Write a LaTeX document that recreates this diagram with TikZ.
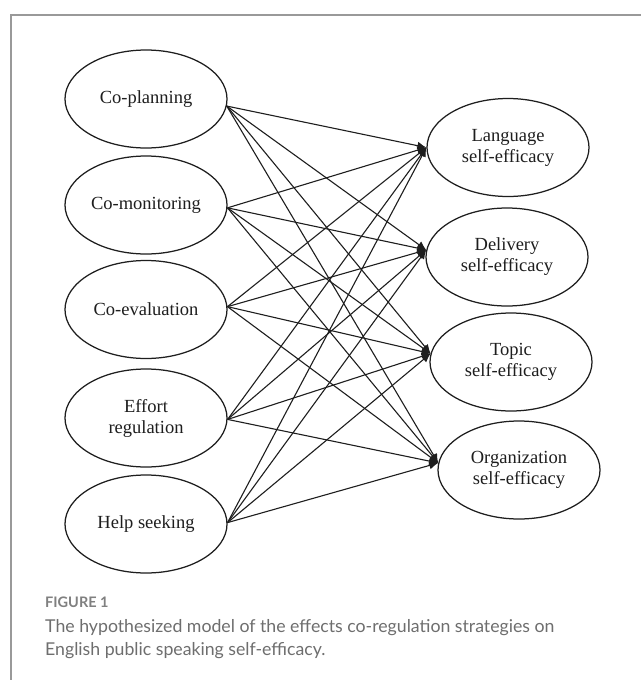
\documentclass[tikz,border=0pt]{standalone}
\usepackage{fontspec}
\setmainfont{Liberation Serif}
\newfontfamily\capfont{Lato}
\usetikzlibrary{shapes.geometric,arrows.meta}
\definecolor{frame}{HTML}{999999}
\definecolor{capgray}{HTML}{6E6E6E}
\definecolor{figgray}{HTML}{808080}
\definecolor{ink}{HTML}{1E1E1E}
\tikzset{
  var/.style={ellipse, draw=ink, line width=1.25pt, minimum width=162pt, minimum height=98pt,
    inner sep=0pt, align=center, font=\fontsize{18.5}{21}\selectfont, text=ink},
  edge/.style={draw=ink, line width=1.1pt, -{Latex[length=9pt,width=8pt]}},
  figlabel/.style={anchor=base west, inner sep=0pt, text=figgray, font=\capfont\bfseries\fontsize{14.5}{16}\selectfont},
  captext/.style={anchor=base west, inner sep=0pt, text=capgray, font=\capfont\fontsize{17.7}{23}\selectfont}
}
\begin{document}
\begin{tikzpicture}[x=1pt,y=-1pt]
\useasboundingbox (0,0) rectangle (641,680);
\fill[white] (0,0) rectangle (641,680);
\draw[frame, line width=1.5pt] (11,680) -- (11,15) -- (641,15);
% left variables
\node[var] (cp) at (146,99) {Co-planning};
\node[var] (cm) at (146,205) {Co-monitoring};
\node[var] (ce) at (146,309.5) {Co-evaluation};
\node[var] (er) at (146,418) {Effort\\regulation};
\node[var] (hs) at (146,524) {Help seeking};
% right variables
\node[var] (la) at (508,147.5) {Language\\self-efficacy};
\node[var] (de) at (507,257) {Delivery\\self-efficacy};
\node[var] (to) at (511,362) {Topic\\self-efficacy};
\node[var] (org) at (519,470) {Organization\\self-efficacy};
% paths
\foreach \s/\sa in {cp/-5,cm/-2,ce/2,er/-1,hs/1}
  \foreach \t/\ta in {la/180,de/175,to/174,org/175}
    \draw[edge] (\s.\sa) -- (\t.\ta);
% caption
\node[figlabel] (fig) at (45,607) {FIGURE 1};
\node[captext] (cap1) at (45,632) {The hypothesized model of the effects co-regulation strategies on};
\node[captext] (cap2) at (45,655) {English public speaking self-efficacy.};
\end{tikzpicture}
\end{document}
